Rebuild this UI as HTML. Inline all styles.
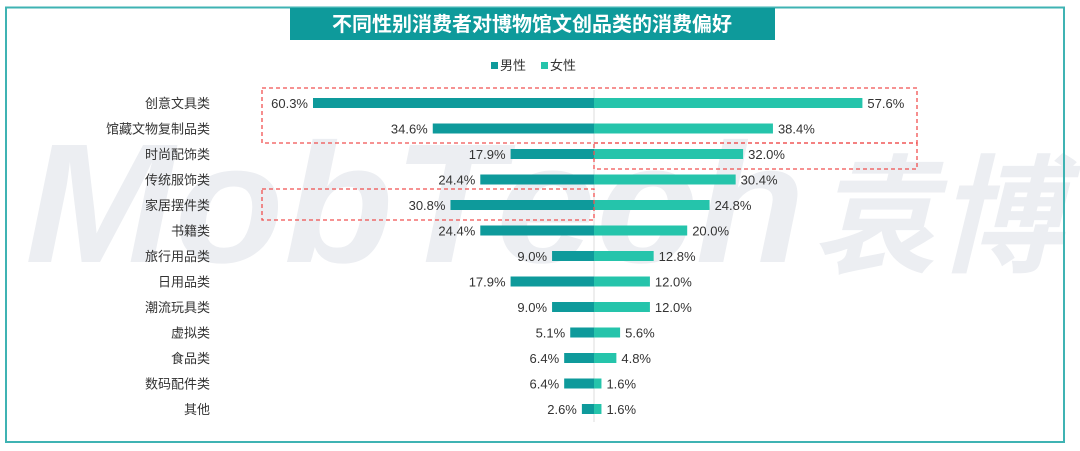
<!DOCTYPE html>
<html><head><meta charset="utf-8"><style>
html,body{margin:0;padding:0;background:#fff;}
svg{display:block;}
text{font-family:"Liberation Sans","Noto Sans CJK SC",sans-serif;}
</style></head><body>
<svg width="1080" height="451" viewBox="0 0 1080 451" xmlns="http://www.w3.org/2000/svg">
<rect x="0" y="0" width="1080" height="451" fill="#fff"/>
<text x="25" y="262" font-size="170" font-weight="bold" font-style="italic" fill="#eceef2" textLength="780" lengthAdjust="spacingAndGlyphs">MobTech</text>
<text x="812" y="262" font-size="128" font-weight="bold" font-style="italic" fill="#eceef2" textLength="250" lengthAdjust="spacingAndGlyphs">袁博</text>
<rect x="6" y="7.5" width="1058" height="434.5" fill="none" stroke="#3fb3b3" stroke-width="2"/>
<rect x="290" y="8" width="485" height="32" fill="#0e9a9b"/>
<text x="532" y="31" font-size="20" font-weight="bold" fill="#fff" text-anchor="middle">不同性别消费者对博物馆文创品类的消费偏好</text>
<rect x="491" y="62" width="7" height="7" fill="#0e9a9b"/>
<text x="500" y="70" font-size="13" fill="#333">男性</text>
<rect x="541" y="62" width="7" height="7" fill="#25c4ab"/>
<text x="550" y="70" font-size="13" fill="#333">女性</text>
<line x1="594" y1="90" x2="594" y2="422" stroke="#ddd" stroke-width="1"/>
<g id="bars" font-size="13" fill="#333"></g>
<g fill="none" stroke="#f05050" stroke-width="1.3" stroke-dasharray="4,3">
<rect x="262" y="88" width="655" height="55"/>
<rect x="594" y="143" width="323" height="26"/>
<rect x="262" y="189" width="332" height="31"/>
</g>
</svg>
<script>
const d=[["创意文具类",60.3,57.6],["馆藏文物复制品类",34.6,38.4],["时尚配饰类",17.9,32.0],["传统服饰类",24.4,30.4],["家居摆件类",30.8,24.8],["书籍类",24.4,20.0],["旅行用品类",9.0,12.8],["日用品类",17.9,12.0],["潮流玩具类",9.0,12.0],["虚拟类",5.1,5.6],["食品类",6.4,4.8],["数码配件类",6.4,1.6],["其他",2.6,1.6]];
const g=document.getElementById('bars');const ns="http://www.w3.org/2000/svg";const k=4.66;
function el(t,a,txt){const e=document.createElementNS(ns,t);for(const i in a)e.setAttribute(i,a[i]);if(txt)e.textContent=txt;g.appendChild(e);}
d.forEach((r,i)=>{const y=103+i*25.5;
el('text',{x:210,y:y+5,'text-anchor':'end'},r[0]);
const m=r[1]*k,f=r[2]*k;
el('rect',{x:594-m,y:y-5,width:m,height:10,fill:'#0e9a9b'});
el('rect',{x:594,y:y-5,width:f,height:10,fill:'#25c4ab'});
el('text',{x:594-m-5,y:y+5,'text-anchor':'end'},r[1].toFixed(1)+'%');
el('text',{x:594+f+5,y:y+5},r[2].toFixed(1)+'%');
});
</script>
</body></html>
